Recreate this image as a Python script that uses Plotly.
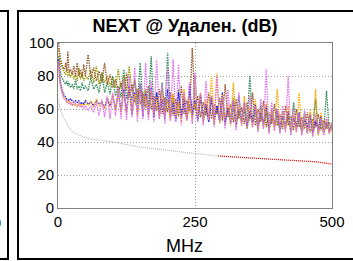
import plotly.graph_objects as go

# ---------------- data ----------------
freq_mhz = [1, 2, 3, 4, 5, 6, 8, 10, 12, 14, 16, 18, 20, 23, 26, 29, 32, 35, 38, 41, 44, 47, 50,
            55, 60, 65, 70, 75, 80, 85, 90, 95, 100,
            105, 110, 115, 120, 125, 130, 135, 140, 145, 150,
            155, 160, 165, 170, 175, 180, 185, 190, 195, 200,
            205, 210, 215, 220, 225, 230, 235, 240, 245, 250,
            255, 260, 265, 270, 275, 280, 285, 290, 295, 300,
            305, 310, 315, 320, 325, 330, 335, 340, 345, 350,
            355, 360, 365, 370, 375, 380, 385, 390, 395, 400,
            405, 410, 415, 420, 425, 430, 435, 440, 445, 450,
            455, 460, 465, 470, 475, 480, 485, 490, 495, 500]

next_green = [92, 88, 85, 83, 81, 80, 78, 77, 76, 75, 77, 74, 76, 73, 75, 72, 78, 72, 74, 71, 76, 72, 74,
              71, 79, 72, 75, 70, 82, 70, 76, 69, 80,
              68, 74, 67, 84, 66, 73, 65, 77, 63, 88,
              62, 71, 61, 92, 60, 70, 59, 76, 58, 94,
              57, 68, 56, 72, 55, 66, 57, 70, 55, 64,
              54, 69, 56, 63, 53, 67, 55, 62, 52, 66,
              54, 61, 51, 60, 53, 68, 52, 59, 50, 80,
              52, 58, 49, 62, 51, 57, 48, 60, 50, 56,
              47, 59, 49, 55, 46, 64, 48, 54, 47, 58,
              46, 53, 48, 66, 45, 52, 47, 71, 46, 51]

next_olive = [97, 93, 90, 88, 87, 86, 84, 83, 82, 81, 84, 80, 82, 79, 83, 78, 81, 77, 85, 78, 82, 77, 80,
              78, 84, 76, 86, 75, 82, 76, 80, 74, 79,
              73, 84, 72, 80, 71, 86, 70, 78, 66, 75,
              64, 72, 62, 70, 60, 68, 58, 73, 57, 66,
              56, 69, 54, 64, 55, 70, 53, 63, 56, 80,
              54, 66, 52, 62, 55, 68, 51, 61, 54, 65,
              50, 60, 53, 67, 49, 59, 52, 63, 48, 58,
              51, 62, 47, 57, 50, 61, 46, 56, 49, 60,
              46, 55, 48, 58, 45, 54, 49, 57, 45, 53,
              48, 56, 44, 52, 47, 55, 45, 51, 46, 50]

next_brown = [100, 96, 93, 91, 90, 88, 86, 85, 84, 88, 83, 95, 82, 84, 81, 86, 80, 88, 80, 84, 79, 87, 80,
              93, 79, 85, 77, 83, 76, 88, 75, 81, 73,
              78, 70, 76, 68, 82, 67, 75, 64, 72, 63,
              70, 61, 74, 60, 68, 59, 72, 57, 67, 58,
              70, 56, 66, 55, 74, 57, 65, 58, 97, 60,
              68, 55, 64, 56, 70, 54, 63, 57, 67, 53,
              75, 55, 63, 52, 66, 54, 61, 51, 64, 53,
              70, 50, 60, 52, 65, 49, 58, 51, 63, 50,
              57, 48, 62, 50, 56, 47, 60, 49, 55, 48,
              58, 46, 54, 49, 57, 47, 53, 48, 52, 47]

next_blue = [90, 84, 80, 77, 75, 73, 71, 69, 68, 67, 66, 66, 65, 66, 65, 64, 65, 64, 65, 63, 64, 63, 65,
             63, 64, 62, 65, 63, 64, 61, 66, 62, 68,
             60, 70, 59, 72, 58, 74, 57, 70, 58, 75,
             56, 69, 57, 73, 55, 70, 56, 66, 54, 72,
             55, 64, 53, 70, 56, 66, 54, 74, 57, 65,
             53, 68, 55, 63, 52, 67, 54, 62, 53, 70,
             52, 61, 54, 65, 51, 60, 53, 64, 50, 59,
             52, 63, 50, 58, 51, 62, 49, 57, 51, 60,
             48, 56, 50, 59, 48, 55, 49, 58, 47, 54,
             49, 57, 46, 53, 48, 56, 46, 52, 47, 50]

next_orange = [89, 83, 79, 76, 74, 72, 70, 68, 67, 66, 65, 64, 65, 63, 64, 62, 63, 61, 64, 62, 63, 62, 64,
               62, 65, 61, 66, 62, 64, 60, 67, 61, 69,
               59, 71, 58, 70, 57, 73, 58, 69, 56, 72,
               57, 68, 55, 71, 56, 67, 54, 70, 55, 66,
               53, 69, 55, 65, 52, 72, 54, 67, 53, 64,
               56, 70, 52, 66, 54, 80, 53, 82, 51, 69,
               54, 63, 50, 76, 52, 62, 50, 68, 51, 61,
               49, 66, 50, 60, 48, 64, 50, 59, 47, 72,
               49, 58, 47, 62, 48, 57, 46, 70, 47, 56,
               45, 60, 47, 72, 44, 58, 46, 54, 45, 51]

next_violet = [88, 82, 78, 75, 73, 71, 69, 67, 66, 65, 64, 65, 63, 64, 62, 64, 63, 62, 63, 61, 62, 60, 62,
               59, 62, 58, 64, 56, 66, 55, 68, 54, 70,
               56, 73, 54, 78, 53, 80, 55, 85, 52, 76,
               54, 88, 53, 77, 52, 90, 54, 75, 51, 84,
               53, 90, 52, 87, 50, 70, 53, 76, 51, 82,
               52, 70, 50, 77, 53, 68, 49, 80, 52, 67,
               48, 72, 51, 65, 47, 70, 50, 64, 48, 68,
               49, 62, 46, 66, 48, 84, 45, 64, 47, 60,
               45, 62, 46, 80, 44, 60, 46, 57, 44, 59,
               45, 56, 43, 57, 45, 54, 44, 55, 45, 52]

limit_pass_f = [1, 2, 4, 7, 15, 27, 40, 57, 80, 100, 150, 200, 250, 292]
limit_pass_v = [65.5, 63, 60, 57, 52, 46, 44, 42, 41, 40, 37, 35, 33, 31.5]
limit_fail_f = [292, 354, 429, 470, 500]
limit_fail_v = [31.5, 30.3, 29, 28, 26.7]

series = [
    ("green", next_green, "#2E8B57"),
    ("olive", next_olive, "#999900"),
    ("brown", next_brown, "#99582A"),
    ("blue", next_blue, "#1010FF"),
    ("orange", next_orange, "#FFA500"),
    ("violet", next_violet, "#E070F0"),
]

x_ticks = [0, 250, 500]
y_ticks = [0, 20, 40, 60, 80, 100]

FONT = "Arial, Liberation Sans, sans-serif"

# plot-area pixel geometry (for paper-coordinate decorations)
W, H = 353, 261
L, R, T, B = 58, 332, 43, 208


def px(x):
    return (x - L) / (R - L)


def py(y):
    return (B - y) / (B - T)


fig = go.Figure()

fig.add_trace(go.Scatter(x=limit_pass_f, y=limit_pass_v, mode="lines",
                         line=dict(color="#AAAAAA", width=1, dash="1px,1px", shape="spline"),
                         hoverinfo="skip"))
fig.add_trace(go.Scatter(x=limit_fail_f, y=limit_fail_v, mode="lines",
                         line=dict(color="#FF0000", width=1.3, dash="1px,1px"),
                         hoverinfo="skip"))

for name, vals, col in series:
    fig.add_trace(go.Scatter(x=freq_mhz, y=vals, mode="lines", name=name,
                             line=dict(color=col, width=1.3, dash="1.5px,1px"),
                             hoverinfo="skip"))

fig.update_layout(
    width=W, height=H,
    margin=dict(l=L, r=W - R, t=T, b=H - B),
    paper_bgcolor="white", plot_bgcolor="white",
    showlegend=False,
    font=dict(family=FONT, color="black", size=15),
    title=dict(text="<b>NEXT @ Удален. (dB)</b>", x=185 / W, xanchor="center",
               y=1 - 26 / H, yanchor="middle",
               font=dict(family=FONT, size=18, color="black")),
    xaxis=dict(range=[0, 500], tickvals=x_ticks, ticktext=[str(v) for v in x_ticks],
               showgrid=True, gridcolor="#A0A0A0", griddash="1px,2px", gridwidth=1,
               showline=True, mirror=True, linecolor="#808080", linewidth=1,
               zeroline=False, ticks="", tickfont=dict(size=15), automargin=False),
    yaxis=dict(range=[0, 100], tickvals=y_ticks, ticktext=[str(v) for v in y_ticks],
               showgrid=True, gridcolor="#A0A0A0", griddash="1px,2px", gridwidth=1,
               showline=True, mirror=True, linecolor="#808080", linewidth=1,
               zeroline=False, ticks="", tickfont=dict(size=15), automargin=False),
)

# axis unit label
fig.add_annotation(text="MHz", xref="paper", yref="paper", x=px(184.5), y=py(246),
                   xanchor="center", yanchor="middle", showarrow=False,
                   font=dict(family=FONT, size=18, color="black"))

# panel border
fig.add_shape(type="rect", xref="paper", yref="paper",
              x0=px(18), x1=px(370), y0=py(259), y1=py(11),
              line=dict(color="black", width=2), layer="above")
# neighbouring panel edge on the left
fig.add_shape(type="path", xref="paper", yref="paper",
              path=f"M {px(-5)},{py(11)} L {px(8)},{py(11)} L {px(8)},{py(259)} L {px(-5)},{py(259)}",
              line=dict(color="black", width=2), layer="above")
fig.add_annotation(text="500", xref="paper", yref="paper", x=px(3), y=py(222),
                   xanchor="right", yanchor="middle", showarrow=False,
                   font=dict(family=FONT, size=15, color="black"))

fig.write_html("out.html",
               config={"displayModeBar": False, "staticPlot": True},
               post_script="document.body.style.margin='0';document.body.style.overflow='hidden';")
